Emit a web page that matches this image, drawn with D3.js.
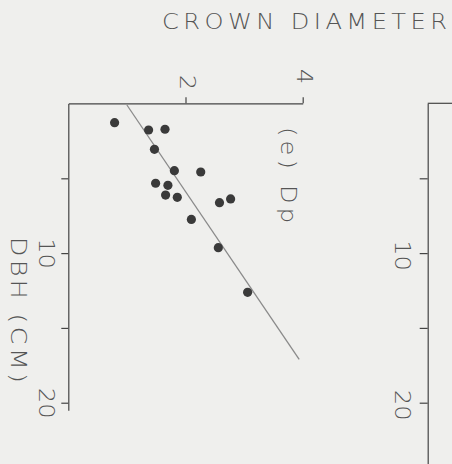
<!DOCTYPE html>
<html>
<head>
<meta charset="utf-8">
<script src="https://cdn.jsdelivr.net/npm/d3@7"></script>
<style>
  html, body { margin: 0; padding: 0; background: #efefed; }
  svg { display: block; }
  text { font-family: "DejaVu Sans", "Open Sans", sans-serif; font-weight: 200; fill: #555; }
</style>
</head>
<body>
<svg id="chart" width="452" height="464"></svg>
<script>
// Panel (e) Dp: DBH (cm) vs crown diameter (m)
const dbh       = [1.28, 1.77, 1.72, 3.06, 4.49, 4.58, 5.33, 5.47, 6.12, 6.27, 6.63, 6.38, 7.75, 9.64, 12.62];
const crownDiam = [0.79, 1.37, 1.65, 1.47, 1.81, 2.26, 1.49, 1.70, 1.66, 1.86, 2.58, 2.77, 2.10, 2.56, 3.06];
// fitted line end points
const fitDbh = [0.1, 17.1];
const fitCd  = [1.00, 3.94];
const dbhTicks = [5, 10, 15, 20];
const dbhTickLabels = ["", "10", "", "20"];
const cdTicks = [2, 4];
const cdTickLabels = ["2", "4"];
const title = "CROWN DIAMETER";
const xTitle = "DBH (CM)";
const panelLabel = "(e) Dp";

const svg = d3.select("#chart");
const x = d3.scaleLinear().domain([0, 4]).range([68.3, 302.7]);      // crown diameter -> right
const y = d3.scaleLinear().domain([0, 20]).range([103.5, 402.7]);    // DBH -> down
const yExt = y.copy().domain([0, 20.5]).range([103.5, 410.2]);
const W = 1.15; // glyph widening

svg.append("rect").attr("width", 452).attr("height", 464).attr("fill", "#efefed");

function styleAxis(g) {
  g.selectAll("path, line").attr("stroke", "#444").attr("stroke-width", 1.2);
}
function styleLabels(sel, transform) {
  sel.attr("x", null).attr("y", null).attr("dy", null)
    .attr("text-anchor", "middle").attr("dominant-baseline", "central")
    .attr("transform", transform)
    .style("font-size", "21px").style("font-family", null).attr("fill", null);
}

// left DBH axis (panel e)
const leftAxis = svg.append("g").attr("transform", `translate(${x(0)},0)`)
  .call(d3.axisLeft(yExt).tickValues(dbhTicks).tickSize(7).tickSizeOuter(0)
        .tickFormat((d, i) => dbhTickLabels[i]));
styleAxis(leftAxis);
styleLabels(leftAxis.selectAll(".tick text"), `translate(-22,0) rotate(90) scale(${W},1)`);

// top crown diameter axis (panel e)
const topAxis = svg.append("g").attr("transform", `translate(0,${y(0) - 0.2})`)
  .call(d3.axisTop(x).tickValues(cdTicks).tickSize(6).tickSizeOuter(0)
        .tickFormat((d, i) => cdTickLabels[i]));
styleAxis(topAxis);
styleLabels(topAxis.selectAll(".tick text"), (d, i) => `translate(1,${i === 0 ? -21 : -27}) rotate(90) scale(${W},1)`);

// right panel DBH axis (panel f, partially visible)
const xRight = 427.7;
const yRight = y.copy().domain([0, 25]).range([103.5, 103.5 + 25 * (402.7 - 103.5) / 20]);
const rightAxis = svg.append("g").attr("transform", `translate(${xRight},0)`)
  .call(d3.axisLeft(yRight).tickValues(dbhTicks).tickSize(8).tickSizeOuter(0)
        .tickFormat((d, i) => dbhTickLabels[i]));
styleAxis(rightAxis);
styleLabels(rightAxis.selectAll(".tick text"), `translate(-25,2) rotate(90) scale(${W},1)`);
svg.append("line").attr("x1", xRight).attr("x2", 452)
  .attr("y1", 103.3).attr("y2", 103.3).attr("stroke", "#444").attr("stroke-width", 1.2);

// fitted line
svg.append("line")
  .attr("x1", x(fitCd[0])).attr("y1", y(fitDbh[0]))
  .attr("x2", x(fitCd[1])).attr("y2", y(fitDbh[1]))
  .attr("stroke", "#8a8a8a").attr("stroke-width", 1.3);

// points
svg.append("g").selectAll("circle")
  .data(dbh.map((d, i) => ({ dbh: d, cd: crownDiam[i] })))
  .join("circle")
  .attr("cx", d => x(d.cd)).attr("cy", d => y(d.dbh))
  .attr("r", 4.6).attr("fill", "#3a3a3a");

// titles
svg.append("text").attr("transform", `translate(162,28.5) scale(${W},1)`)
  .attr("textLength", 285 / W).attr("lengthAdjust", "spacing")
  .style("font-size", "21px").text(title);

svg.append("text").attr("text-anchor", "middle").attr("dominant-baseline", "central")
  .attr("transform", `translate(18,310) rotate(90) scale(${W},1)`)
  .attr("textLength", 146 / W).attr("lengthAdjust", "spacing")
  .style("font-size", "22px").text(xTitle);

svg.append("text").attr("text-anchor", "middle").attr("dominant-baseline", "central")
  .attr("transform", `translate(288,175) rotate(90) scale(${W},1)`)
  .attr("textLength", 96 / W).attr("lengthAdjust", "spacing")
  .style("font-size", "21px").text(panelLabel);
</script>
</body>
</html>
